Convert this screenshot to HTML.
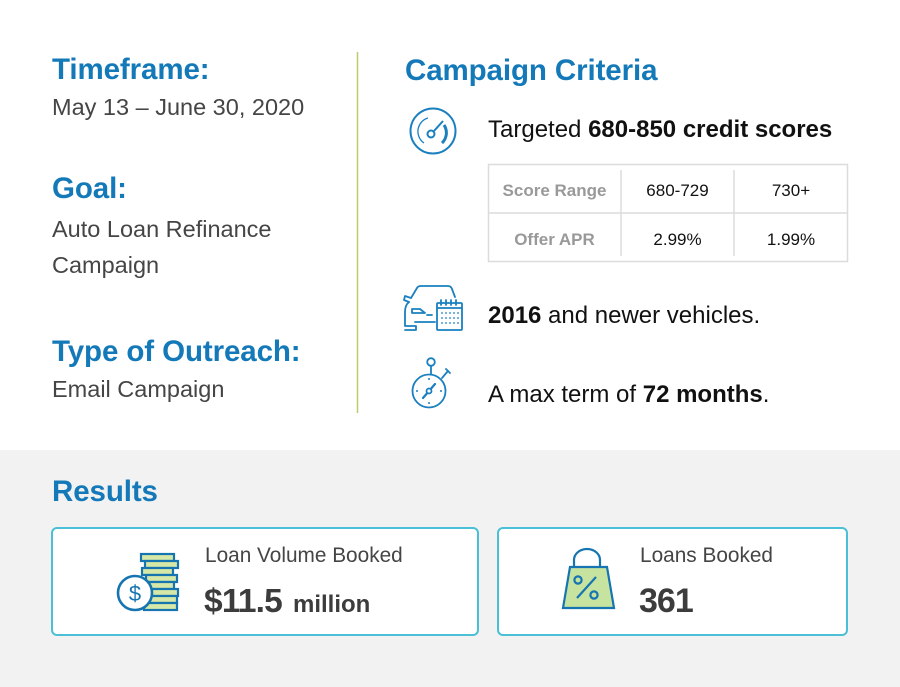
<!DOCTYPE html>
<html><head><meta charset="utf-8"><style>
html,body{margin:0;padding:0;}
body{width:900px;height:687px;position:relative;overflow:hidden;background:#fff;font-family:"Liberation Sans",sans-serif;}
.t{position:absolute;white-space:nowrap;line-height:1;}
.h{color:#1479b8;font-weight:bold;font-size:29.5px;letter-spacing:-0.1px;}
.b{color:#454545;font-size:23.5px;}
.k{color:#111;font-size:24px;}
.g{color:#999;font-weight:bold;font-size:17px;}
.c{color:#111;font-size:17px;}
.gray{position:absolute;left:0;top:450px;width:900px;height:237px;background:#f2f2f2;}
.card{position:absolute;top:527px;height:105px;border:2px solid #4bbfd6;border-radius:6px;background:#fff;}
</style></head><body>
<div class="gray"></div>
<div class="card" style="left:51px;width:424px;"></div>
<div class="card" style="left:497px;width:347px;"></div>

<svg width="900" height="687" style="position:absolute;left:0;top:0;" xmlns="http://www.w3.org/2000/svg">
  <line x1="357.5" y1="52" x2="357.5" y2="413" stroke="#b5cf6b" stroke-width="1.5"/>
  <rect x="488.5" y="164.5" width="359" height="97" fill="#fff" stroke="#dcdcdc" stroke-width="1.5"/>
  <line x1="488" y1="213" x2="848" y2="213" stroke="#dcdcdc" stroke-width="1.5"/>
  <line x1="621" y1="170" x2="621" y2="256" stroke="#dcdcdc" stroke-width="1.5"/>
  <line x1="734" y1="170" x2="734" y2="256" stroke="#dcdcdc" stroke-width="1.5"/>
  <g fill="none" stroke="#1a80c0" stroke-width="2">
    <circle cx="433" cy="131" r="22.5"/>
    <path d="M424 143 A14 14 0 0 1 428 118" stroke-width="1.3"/>
    <path d="M444 125 A14 14 0 0 1 442 143" stroke-width="3"/>
    <circle cx="431" cy="134" r="3.5"/>
    <line x1="434" y1="131" x2="443" y2="121"/>
  </g>
  <g fill="none" stroke="#1a80c0" stroke-width="1.8" stroke-linecap="round" stroke-linejoin="round">
    <path d="M411 298 L417 288 Q418 286 421 286 L448 286 Q451 286 452 289 L455 297"/>
    <path d="M411 298 L405 296 L404 300 L409 302"/>
    <path d="M409 302 Q405 305 405 312 L405 326 L416 326 L416 330 L405 330"/>
    <path d="M412 309 L420 309 L425 313 L412 313 Z"/>
    <line x1="427" y1="315" x2="432" y2="315"/>
    <line x1="415" y1="322" x2="435" y2="322"/>
    <rect x="437" y="303" width="25" height="27" rx="1"/>
    <line x1="437" y1="308" x2="462" y2="308"/>
    <line x1="441" y1="300" x2="441" y2="305"/><line x1="446" y1="300" x2="446" y2="305"/>
    <line x1="451" y1="300" x2="451" y2="305"/><line x1="456" y1="300" x2="456" y2="305"/>
  </g>
  <g fill="#1a80c0">
    <circle cx="442" cy="313" r="0.9"/><circle cx="446" cy="313" r="0.9"/><circle cx="450" cy="313" r="0.9"/><circle cx="454" cy="313" r="0.9"/><circle cx="458" cy="313" r="0.9"/>
    <circle cx="442" cy="318" r="0.9"/><circle cx="446" cy="318" r="0.9"/><circle cx="450" cy="318" r="0.9"/><circle cx="454" cy="318" r="0.9"/><circle cx="458" cy="318" r="0.9"/>
    <circle cx="442" cy="323" r="0.9"/><circle cx="446" cy="323" r="0.9"/><circle cx="450" cy="323" r="0.9"/><circle cx="454" cy="323" r="0.9"/><circle cx="458" cy="323" r="0.9"/>
  </g>
  <g fill="none" stroke="#1a80c0" stroke-width="1.8" stroke-linecap="round">
    <circle cx="429" cy="391" r="16.5"/>
    <circle cx="431" cy="362" r="3.8"/>
    <line x1="431" y1="366" x2="431" y2="374"/>
    <line x1="442" y1="378" x2="448" y2="371"/>
    <line x1="446" y1="369" x2="450" y2="373"/>
    <line x1="423" y1="398" x2="435" y2="384" stroke-width="2.2"/>
    <circle cx="429" cy="391" r="2.5" fill="#fff"/>
  </g>
  <g fill="#1a80c0">
    <circle cx="429" cy="379" r="1"/><circle cx="429" cy="403" r="1"/><circle cx="417" cy="391" r="1"/><circle cx="441" cy="391" r="1"/>
  </g>
  <g fill="#d5e8a8" stroke="#1674b0" stroke-width="2.2">
    <rect x="141" y="554" width="33" height="7"/>
    <rect x="145" y="561" width="33" height="7"/>
    <rect x="142" y="568" width="31" height="7"/>
    <rect x="146" y="575" width="31" height="7"/>
    <rect x="142" y="582" width="32" height="7"/>
    <rect x="146" y="589" width="32" height="7"/>
    <rect x="141" y="596" width="36" height="7"/>
    <rect x="144" y="603" width="33" height="7"/>
    <circle cx="135" cy="593" r="17" fill="#fff" stroke-width="2.6"/>
  </g>
  <text x="135" y="601" text-anchor="middle" font-family="Liberation Sans" font-size="22" fill="#1674b0">$</text>
  <g stroke="#1674b0" stroke-width="2.2" fill="none">
    <path d="M574 568 L574 560 A13 11 0 0 1 600 560 L600 568"/>
    <path d="M570 567 L607 567 L614 608 L563 608 Z" fill="#c6e3a0"/>
    <circle cx="578" cy="580" r="3.6"/>
    <circle cx="594" cy="595" r="3.6"/>
    <line x1="596" y1="577" x2="577" y2="598"/>
  </g>
</svg>

<div class="t h" style="left:52px;top:55px;">Timeframe:</div>
<div class="t b" style="left:52px;top:96px;">May 13 – June 30, 2020</div>
<div class="t h" style="left:52px;top:174px;">Goal:</div>
<div class="t b" style="left:52px;top:218px;">Auto Loan Refinance</div>
<div class="t b" style="left:52px;top:254px;">Campaign</div>
<div class="t h" style="left:52px;top:337px;">Type of Outreach:</div>
<div class="t b" style="left:52px;top:378px;">Email Campaign</div>

<div class="t h" style="left:405px;top:56px;">Campaign Criteria</div>
<div class="t k" style="left:488px;top:117.5px;">Targeted <b>680-850 credit scores</b></div>

<div class="t g" style="left:488px;width:133px;text-align:center;top:181.6px;">Score Range</div>
<div class="t c" style="left:621px;width:113px;text-align:center;top:181.6px;">680-729</div>
<div class="t c" style="left:734px;width:114px;text-align:center;top:181.6px;">730+</div>
<div class="t g" style="left:488px;width:133px;text-align:center;top:230.6px;">Offer APR</div>
<div class="t c" style="left:621px;width:113px;text-align:center;top:230.6px;">2.99%</div>
<div class="t c" style="left:734px;width:114px;text-align:center;top:230.6px;">1.99%</div>

<div class="t k" style="left:488px;top:303.8px;"><b>2016</b> and newer vehicles.</div>
<div class="t k" style="left:488px;top:382.5px;">A max term of <b>72 months</b>.</div>

<div class="t h" style="left:52px;top:476.5px;">Results</div>

<div class="t" style="left:205px;top:546.4px;font-size:20.8px;color:#454545;">Loan Volume Booked</div>
<div class="t" style="left:204px;top:584.5px;color:#3c3c3c;font-weight:bold;font-size:33.5px;letter-spacing:-0.8px;">$11.5</div>
<div class="t" style="left:293px;top:592.5px;color:#3c3c3c;font-weight:bold;font-size:24px;">million</div>

<div class="t" style="left:640px;top:546.4px;font-size:20.8px;color:#454545;">Loans Booked</div>
<div class="t" style="left:639px;top:584px;color:#3c3c3c;font-weight:bold;font-size:34px;letter-spacing:-1px;">361</div>
</body></html>
